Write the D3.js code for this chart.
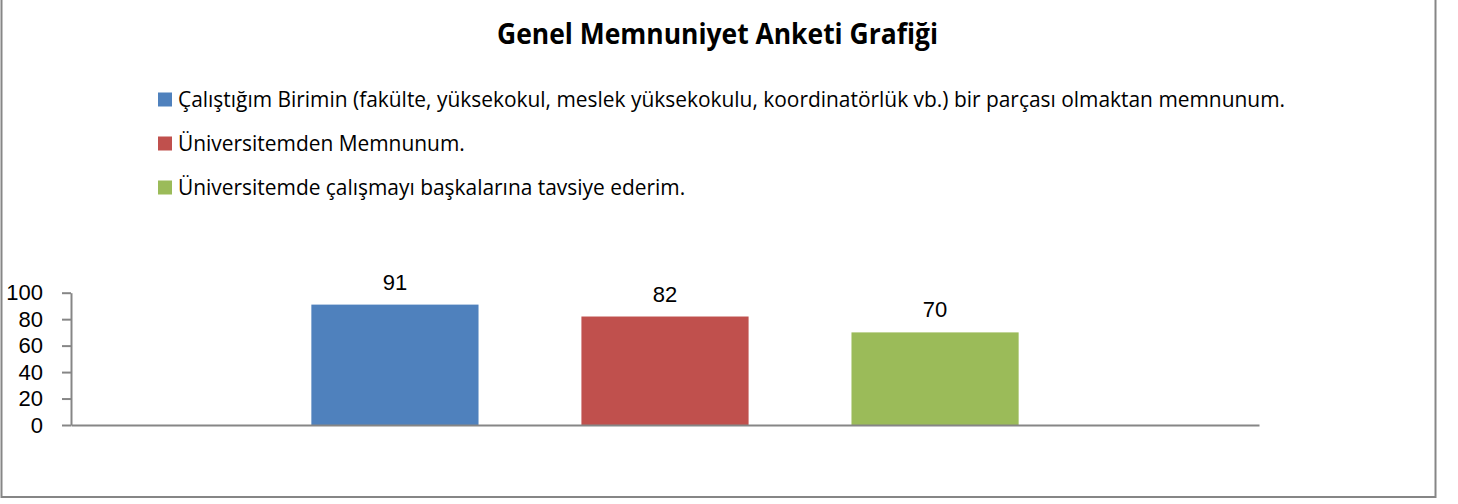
<!DOCTYPE html>
<html>
<head>
<meta charset="utf-8">
<script src="https://cdn.jsdelivr.net/npm/d3@7"></script>
<style>
  body { margin: 0; background: #fff; }
  svg { display: block; font-family: "Open Sans", sans-serif; }
</style>
</head>
<body>
<svg width="1458" height="504"></svg>
<script>
let title = "Genel Memnuniyet Anketi Grafiği";
let seriesNames = [
	"Çalıştığım Birimin (fakülte, yüksekokul, meslek yüksekokulu, koordinatörlük vb.) bir parçası olmaktan memnunum.",
	"Üniversitemden Memnunum.",
	"Üniversitemde çalışmayı başkalarına tavsiye ederim."
];
let seriesValues = [91, 82, 70];
let seriesColors = ["#4F81BD", "#C0504D", "#9BBB59"];
let yTicks = [0, 20, 40, 60, 80, 100];

let svg = d3.select("svg");
let axisColor = "#868686";
let numFont = "'Liberation Sans', Arial, sans-serif";
let plot = {left: 71, right: 1259, top: 292.7, bottom: 425};

// chart frame (top edge sits just above the picture)
svg.append("rect")
	.attr("x", 1.5).attr("y", -4)
	.attr("width", 1434).attr("height", 501)
	.attr("fill", "none")
	.attr("stroke", axisColor)
	.attr("stroke-width", 2);

// title
let titleText = svg.append("text")
	.attr("x", 717.5).attr("y", 44)
	.attr("text-anchor", "middle")
	.attr("font-weight", "bold")
	.attr("font-size", 29)
	.text(title);
let tw = titleText.node().getComputedTextLength();
if (tw > 441) titleText.attr("textLength", 441).attr("lengthAdjust", "spacingAndGlyphs");

// legend
let legend = svg.append("g");
let items = legend.selectAll("g").data(seriesNames).enter().append("g")
	.attr("transform", (d, i) => `translate(158,${106.5 + i * 44})`);
items.append("rect")
	.attr("x", 0).attr("y", -14)
	.attr("width", 14).attr("height", 14)
	.attr("fill", (d, i) => seriesColors[i]);
let legendTexts = items.append("text")
	.attr("x", 20).attr("y", 0)
	.attr("font-size", 21)
	.text(d => d);
let firstW = legendTexts.node().getComputedTextLength();
let k = Math.min(1, 1107 / firstW);
legendTexts.each(function() {
	let w = this.getComputedTextLength();
	if (k < 1) d3.select(this).attr("textLength", w * k).attr("lengthAdjust", "spacingAndGlyphs");
});

// scales
let x = d3.scaleBand()
	.domain(seriesNames)
	.range([plot.left, plot.right])
	.paddingInner(0.381)
	.paddingOuter(0.89);

let y = d3.scaleLinear()
	.domain([0, 100])
	.range([plot.bottom, plot.top]);

// bars
svg.append("g")
	.selectAll("rect").data(seriesValues).enter().append("rect")
	.attr("x", (d, i) => x(seriesNames[i]))
	.attr("y", d => y(d))
	.attr("width", x.bandwidth())
	.attr("height", d => y(0) - y(d))
	.attr("fill", (d, i) => seriesColors[i]);

// value labels
svg.append("g")
	.selectAll("text").data(seriesValues).enter().append("text")
	.attr("x", (d, i) => x(seriesNames[i]) + x.bandwidth() / 2)
	.attr("y", d => y(d) - 15)
	.attr("text-anchor", "middle")
	.attr("font-family", numFont)
	.attr("font-size", 22)
	.text(d => d);

// y axis
let yAxis = svg.append("g")
	.attr("transform", `translate(${plot.left},0)`)
	.call(d3.axisLeft(y).tickValues(yTicks).tickSize(9).tickPadding(19).tickSizeOuter(0));
yAxis.select(".domain").attr("stroke", axisColor).attr("stroke-width", 2);
yAxis.selectAll(".tick line").attr("stroke", axisColor).attr("stroke-width", 2);
yAxis.selectAll(".tick text")
	.attr("fill", "#000")
	.attr("font-size", 22)
	.attr("font-family", numFont);

// category axis (baseline)
let xAxis = svg.append("g")
	.attr("transform", `translate(0,${plot.bottom})`)
	.call(d3.axisBottom(x).tickValues([]).tickSizeOuter(0));
xAxis.select(".domain").attr("stroke", axisColor).attr("stroke-width", 2);
</script>
</body>
</html>
